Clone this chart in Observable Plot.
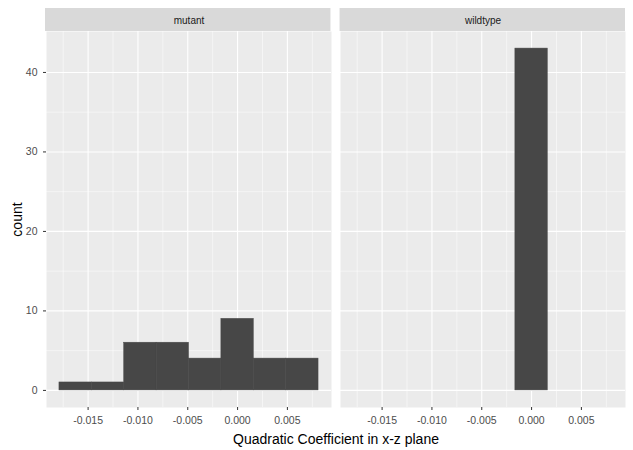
<!DOCTYPE html>
<html><head>
<script src="https://cdn.jsdelivr.net/npm/d3@7"></script>
<script src="https://cdn.jsdelivr.net/npm/@observablehq/plot@0.6"></script>
<style>body{margin:0;background:#fff;font-family:"Liberation Sans",Arial,sans-serif}</style>
</head><body><div id="chart"></div>
<script>
const genotypes = ['mutant', 'wildtype']
const binEdges = [-0.017875, -0.014625, -0.011375, -0.008125, -0.004875, -0.001625, 0.001625, 0.004875, 0.008125]
const mutantCounts = [1, 1, 6, 6, 4, 9, 4, 4]
const wildtypeCounts = [0, 0, 0, 0, 0, 43, 0, 0]
const xTicks = [-0.015, -0.010, -0.005, 0, 0.005]
const xMinor = [-0.0175, -0.0125, -0.0075, -0.0025, 0.0025, 0.0075]
const yTicks = [0, 10, 20, 30, 40]
const yMinor = [5, 15, 25, 35]

const bins = []
genotypes.forEach((g, gi) => {
  const counts = gi == 0 ? mutantCounts : wildtypeCounts
  counts.forEach((c, i) => {
    if (c > 0) bins.push({genotype: g, x1: binEdges[i], x2: binEdges[i + 1], count: c})
  })
})

const W = 633, H = 450, mL = 45, mR = 8, mT = 31, mB = 43
const chart = Plot.plot({
  width: W, height: H,
  marginLeft: mL, marginRight: mR, marginTop: mT, marginBottom: mB,
  style: {fontFamily: 'Liberation Sans, Arial, sans-serif', fontSize: '10px', color: '#4d4d4d'},
  fx: {domain: genotypes, paddingInner: 0.031, paddingOuter: 0},
  x: {domain: [-0.019175, 0.009425]},
  y: {domain: [-2.15, 45.15]},
  marks: [
    Plot.frame({fill: '#ebebeb', stroke: null}),
    Plot.gridX(xMinor, {stroke: 'white', strokeOpacity: 1, strokeWidth: 0.5}),
    Plot.gridY(yMinor, {stroke: 'white', strokeOpacity: 1, strokeWidth: 0.5}),
    Plot.gridX(xTicks, {stroke: 'white', strokeOpacity: 1, strokeWidth: 1.1}),
    Plot.gridY(yTicks, {stroke: 'white', strokeOpacity: 1, strokeWidth: 1.1}),
    Plot.rectY(bins, {fx: 'genotype', x1: 'x1', x2: 'x2', y1: 0, y2: 'count', fill: '#474747', inset: 0, stroke: '#474747', strokeWidth: 0.5}),
    Plot.axisX(xTicks, {tickFormat: d => d.toFixed(3), tickSize: 3, stroke: '#333', fill: '#4d4d4d', fontSize: 10.5,
      label: 'Quadratic Coefficient in x-z plane', labelAnchor: 'center', labelArrow: 'none', labelOffset: 36}),
    Plot.axisY(yTicks, {tickSize: 3, stroke: '#333', fill: '#4d4d4d', fontSize: 10.5,
      label: 'count', labelAnchor: 'center', labelArrow: 'none', labelOffset: 34}),
    Plot.axisFx({anchor: 'top', label: null, tickSize: 0, tickPadding: 8, fontSize: 10, fill: '#1a1a1a'})
  ]
})

// strip backgrounds behind the facet labels
const band = d3.scaleBand().domain(genotypes).range([mL, W - mR]).paddingInner(0.031).paddingOuter(0)
const svg = d3.select(chart)
genotypes.forEach(g => {
  svg.insert('rect', ':first-child')
    .attr('x', band(g)).attr('y', 8).attr('width', band.bandwidth()).attr('height', mT - 8)
    .attr('fill', '#d9d9d9')
})
svg.selectAll('[aria-label="x-axis label"] text, [aria-label="y-axis label"] text, [aria-label="x-axis label"], [aria-label="y-axis label"]')
  .style('font-size', '14px').attr('fill', '#000')
d3.select('#chart').append(() => chart)
</script>
</body></html>
